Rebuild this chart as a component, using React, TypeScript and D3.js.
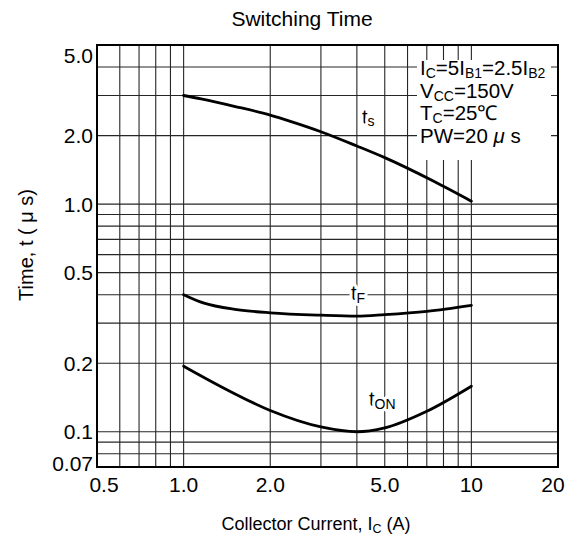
import React from "react";
import * as d3 from "d3";

const xDomain = [0.5, 20];
const yDomain = [0.07, 5.0];
const xGridValues = [0.6, 0.7, 0.8, 0.9, 1, 2, 3, 4, 5, 6, 7, 8, 9, 10];
const yGridValues = [0.08, 0.09, 0.1, 0.2, 0.3, 0.4, 0.5, 0.6, 0.7, 0.8, 0.9, 1, 2, 3, 4];
const xTickValues = [0.5, 1, 2, 5, 10, 20];
const xTickLabels = ["0.5", "1.0", "2.0", "5.0", "10", "20"];
const yTickValues = [0.07, 0.1, 0.2, 0.5, 1, 2, 5];
const yTickLabels = ["0.07", "0.1", "0.2", "0.5", "1.0", "2.0", "5.0"];

const tsX = [1.0, 1.15, 1.5, 2.0, 2.35, 3.0, 4.0, 5.0, 7.4, 10];
const tsY = [3.0, 2.9, 2.69, 2.46, 2.31, 2.08, 1.8, 1.6, 1.26, 1.03];
const tfX = [1.0, 1.17, 1.53, 2.0, 3.0, 4.0, 5.0, 7.0, 10];
const tfY = [0.4, 0.368, 0.344, 0.333, 0.325, 0.322, 0.327, 0.338, 0.359];
const tonX = [1.0, 1.34, 2.0, 3.0, 4.0, 5.0, 7.0, 10];
const tonY = [0.194, 0.1585, 0.124, 0.105, 0.1, 0.104, 0.123, 0.1585];

const title = "Switching Time";
const xTitle = "Collector Current, I";
const yTitle = "Time, t ( \u03bc s)";

const FONT = "'Liberation Sans', Arial, Helvetica, sans-serif";

type Seg = { t: string; sub?: boolean; it?: boolean };

function Rich({ x, y, segs, size, subSize, subDy, halo }: { x: number; y: number; segs: Seg[]; size: number; subSize: number; subDy: number; halo?: boolean }) {
  let prevSub = false;
  return (
    <text
      x={x}
      y={y}
      fontFamily={FONT}
      fontSize={size}
      fill="#000"
      stroke={halo ? "#fff" : undefined}
      strokeWidth={halo ? 6 : undefined}
      paintOrder="stroke"
      strokeLinejoin="round"
    >
      {segs.map((s, i) => {
        let dy = 0;
        if (s.sub && !prevSub) dy = subDy;
        else if (!s.sub && prevSub) dy = -subDy;
        prevSub = !!s.sub;
        return (
          <tspan
            key={i}
            dy={dy}
            fontSize={s.sub ? subSize : size}
            fontStyle={s.it ? "italic" : undefined}
          >
            {s.t}
          </tspan>
        );
      })}
    </text>
  );
}

export default function App() {
  const W = 578;
  const H = 540;
  const left = 97, right = 558, top = 45, bottom = 467;
  const x = d3.scaleLog().domain(xDomain).range([left, right]);
  const y = d3.scaleLog().domain(yDomain).range([bottom, top]);

  const line = d3
    .line<[number, number]>()
    .x((d) => x(d[0]))
    .y((d) => y(d[1]))
    .curve(d3.curveMonotoneX);

  const series = [
    d3.zip(tsX, tsY) as [number, number][],
    d3.zip(tfX, tfY) as [number, number][],
    d3.zip(tonX, tonY) as [number, number][],
  ];

  const gridColor = "#262626";

  return (
    <svg
      width={W}
      height={H}
      style={{ position: "absolute", left: 0, top: 0, background: "#fff" }}
    >
      <rect x={0} y={0} width={W} height={H} fill="#fff" />
      {/* gridlines */}
      <g stroke={gridColor} strokeWidth={1.1}>
        {xGridValues.map((v) => (
          <line key={"gx" + v} x1={x(v)} x2={x(v)} y1={top} y2={bottom} />
        ))}
        {yGridValues.map((v) => (
          <line key={"gy" + v} x1={left} x2={right} y1={y(v)} y2={y(v)} />
        ))}
      </g>

      {/* annotation block background */}
      <rect x={417} y={60} width={134} height={100} fill="#fff" />
      <g>
        <Rich x={420} y={75} size={20.5} subSize={14} subDy={3}
          segs={[{ t: "I" }, { t: "C", sub: true }, { t: "=5I" }, { t: "B1", sub: true }, { t: "=2.5I" }, { t: "B2", sub: true }]} />
        <Rich x={420} y={97.5} size={20.5} subSize={14} subDy={3}
          segs={[{ t: "V" }, { t: "CC", sub: true }, { t: "=150V" }]} />
        <Rich x={420} y={120} size={20.5} subSize={14} subDy={3}
          segs={[{ t: "T" }, { t: "C", sub: true }, { t: "=25\u2103" }]} />
        <Rich x={420} y={143} size={20.5} subSize={14} subDy={3}
          segs={[{ t: "PW=20 " }, { t: "\u03bc", it: true }, { t: " s" }]} />
      </g>

      {/* curve labels */}
      <Rich x={362} y={124} size={20} subSize={14} subDy={2} halo
        segs={[{ t: "t" }, { t: "s", sub: true }]} />
      <Rich x={351} y={300} size={20} subSize={14} subDy={3} halo
        segs={[{ t: "t" }, { t: "F", sub: true }]} />
      <Rich x={369} y={406} size={20} subSize={14} subDy={3} halo
        segs={[{ t: "t" }, { t: "ON", sub: true }]} />

      {/* curves */}
      <g fill="none" stroke="#000" strokeWidth={2.8} strokeLinecap="round">
        {series.map((s, i) => (
          <path key={i} d={line(s) || ""} />
        ))}
      </g>

      {/* frame */}
      <rect x={left} y={top} width={right - left} height={bottom - top} fill="none" stroke="#000" strokeWidth={2} />

      {/* y tick labels */}
      <g fontFamily={FONT} fontSize={21} fill="#000" textAnchor="end">
        {yTickValues.map((v, i) => {
          const cy = Math.min(Math.max(y(v), top + 10), bottom - 4);
          return (
            <text key={"yl" + v} x={93} y={cy} dy="0.36em">
              {yTickLabels[i]}
            </text>
          );
        })}
      </g>
      {/* x tick labels */}
      <g fontFamily={FONT} fontSize={21} fill="#000" textAnchor="middle">
        {xTickValues.map((v, i) => {
          const cx = Math.min(Math.max(x(v), left + 7), right - 5);
          return (
            <text key={"xl" + v} x={cx} y={492}>
              {xTickLabels[i]}
            </text>
          );
        })}
      </g>

      {/* titles */}
      <text x={302} y={26} fontFamily={FONT} fontSize={21} textAnchor="middle">
        {title}
      </text>
      <text x={316} y={530} fontFamily={FONT} fontSize={18} textAnchor="middle">
        {xTitle}
        <tspan dy={3} fontSize={12.5}>C</tspan>
        <tspan dy={-3}> (A)</tspan>
      </text>
      <text
        transform={`translate(33,245) rotate(-90)`}
        fontFamily={FONT}
        fontSize={20}
        textAnchor="middle"
      >
        {yTitle}
      </text>
    </svg>
  );
}
